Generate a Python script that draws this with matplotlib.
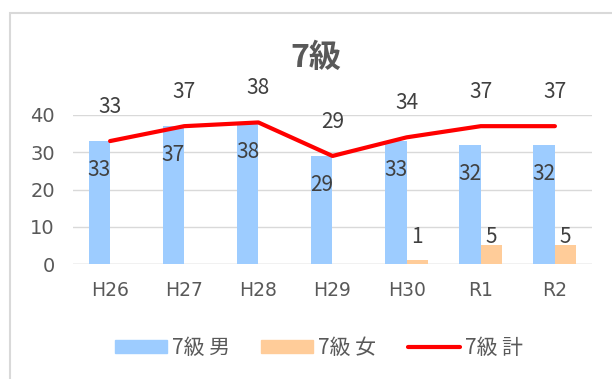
import numpy as np
import matplotlib
matplotlib.use("Agg")
import matplotlib.pyplot as plt
from matplotlib.patches import Rectangle
from matplotlib.lines import Line2D

# chart data
years = ["H26", "H27", "H28", "H29", "H30", "R1", "R2"]
male = [33, 37, 38, 29, 33, 32, 32]
female = [0, 0, 0, 0, 1, 5, 5]
total = [33, 37, 38, 29, 34, 37, 37]

TITLE = "7級"
NAMES = ["7級 男", "7級 女", "7級 計"]

BLUE = "#9DCCFF"
ORANGE = "#FFCC99"
RED = "#FF0000"
TEXT = "#595959"
LABEL = "#404040"
GRID = "#D9D9D9"

plt.rcParams["font.family"] = ["Noto Sans CJK JP", "DejaVu Sans"]

fig = plt.figure(figsize=(6.12, 3.79), dpi=100)
ax = fig.add_axes([0.1193, 0.3034, 0.848, 0.3932])

x = np.arange(len(years))
w = 0.29
ax.bar(x - w / 2, male, width=w, color=BLUE, zorder=2)
ax.bar(x + w / 2, female, width=w, color=ORANGE, zorder=2)
ax.plot(x, total, color=RED, lw=3, solid_capstyle="round", zorder=3)

ax.set_xlim(-0.5, len(years) - 0.5)
ax.set_ylim(0, 40)
ax.set_yticks([0, 10, 20, 30, 40])
ax.set_xticks(x)
ax.set_xticklabels(years)
ax.yaxis.grid(True, color=GRID, lw=1)
ax.set_axisbelow(True)
for s in ax.spines.values():
    s.set_visible(False)
ax.axhline(0, color=GRID, lw=1, zorder=1)
ax.tick_params(length=0, labelcolor=TEXT)
ax.tick_params(axis="x", pad=12, labelsize=13.5)
ax.tick_params(axis="y", pad=13, labelsize=14)
for t in ax.get_xticklabels() + ax.get_yticklabels():
    t.set_family("DejaVu Sans")

# value labels
for xi, v in zip(x, male):
    ax.annotate(f"{v}", (xi - w / 2, v), xytext=(0, -21), textcoords="offset points",
                ha="center", va="center", fontsize=15, color=LABEL, annotation_clip=False)
for xi, v in zip(x, female):
    if v:
        ax.annotate(f"{v}", (xi + w / 2, max(v, 5)), xytext=(0, 6), textcoords="offset points",
                    ha="center", va="center", fontsize=15, color=LABEL, annotation_clip=False)
for xi, v in zip(x, total):
    ax.annotate(f"{v}", (xi, v), xytext=(0, 24.5), textcoords="offset points",
                ha="center", va="center", fontsize=15, color=LABEL, annotation_clip=False)

fig.text(0.516, 0.847, TITLE, ha="center", va="center", fontsize=23, color=TEXT,
         fontweight="bold")

handles = [
    Rectangle((0, 0), 1, 1, color=BLUE),
    Rectangle((0, 0), 1, 1, color=ORANGE),
    Line2D([0], [0], color=RED, lw=3, solid_capstyle="round"),
]
leg = fig.legend(handles, NAMES, loc="center", bbox_to_anchor=(0.521, 0.082), ncol=3,
                 frameon=False, fontsize=15, handlelength=2.5, handleheight=0.6,
                 handletextpad=0.25, columnspacing=1.5, labelcolor=TEXT)

# chart border (clipped by the image edge on the right and bottom)
fig.patches.append(Rectangle((10 / 612, -0.1), 1.2, 1 - 13 / 379 + 0.1, transform=fig.transFigure,
                             fill=False, edgecolor=GRID, lw=1.5))

fig.savefig("out.png", dpi=100)
